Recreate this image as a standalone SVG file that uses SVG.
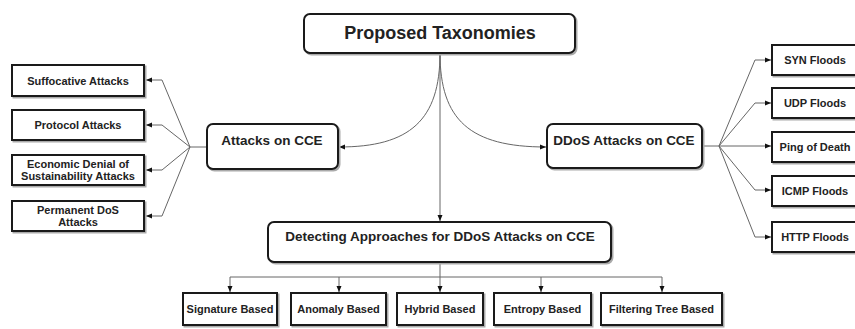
<svg xmlns="http://www.w3.org/2000/svg" width="855" height="329" viewBox="0 0 855 329">
<style>
text{font-family:"Liberation Sans",Arial,sans-serif;font-weight:bold;fill:#222;text-anchor:middle;dominant-baseline:central}
.box{fill:#fff;stroke:#1a1a1a;stroke-width:2}
.sh{fill:none;stroke:#aaa;stroke-width:2}
.c{fill:none;stroke:#666;stroke-width:1}
.s11{font-size:11px}
.s13{font-size:13.5px}
.s18{font-size:18px}
</style>
<defs>
<marker id="ah" markerUnits="userSpaceOnUse" markerWidth="7" markerHeight="6" refX="6" refY="3" orient="auto">
<path d="M0,0.5 L6,3 L0,5.5 Z" fill="#111"/>
</marker>
</defs>
<rect width="855" height="329" fill="#fff"/>
<g id="connectors">
<path class="c" d="M440,53 C440,120 410,147 339,147" marker-end="url(#ah)"/>
<path class="c" d="M440,53 C440,120 470,147 546,147" marker-end="url(#ah)"/>
<path class="c" d="M440,53 L440,221" marker-end="url(#ah)"/>
<path class="c" d="M207,147 L190,147"/>
<path class="c" d="M190,147 L162,80 L146,80" marker-end="url(#ah)"/>
<path class="c" d="M190,147 L162,125 L146,125" marker-end="url(#ah)"/>
<path class="c" d="M190,147 L162,170 L146,170" marker-end="url(#ah)"/>
<path class="c" d="M190,147 L162,216 L146,216" marker-end="url(#ah)"/>
<path class="c" d="M702,146 L719,146"/>
<path class="c" d="M719,146 L755,60 L771,60" marker-end="url(#ah)"/>
<path class="c" d="M719,146 L755,103 L771,103" marker-end="url(#ah)"/>
<path class="c" d="M719,146 L771,146" marker-end="url(#ah)"/>
<path class="c" d="M719,146 L755,190 L771,190" marker-end="url(#ah)"/>
<path class="c" d="M719,146 L755,237 L771,237" marker-end="url(#ah)"/>
<path class="c" d="M440,262 L440,277 M230,277 L662,277"/>
<path class="c" d="M230,277 L230,292" marker-end="url(#ah)"/>
<path class="c" d="M339,277 L339,292" marker-end="url(#ah)"/>
<path class="c" d="M440,277 L440,292" marker-end="url(#ah)"/>
<path class="c" d="M541,277 L541,292" marker-end="url(#ah)"/>
<path class="c" d="M662,277 L662,292" marker-end="url(#ah)"/>
</g>
<g id="proposed">
<rect class="sh" x="305.5" y="15.5" width="271" height="39" rx="6"/>
<rect class="box" x="304" y="14" width="271" height="39" rx="6"/>
<text class="s18" x="440" y="33">Proposed Taxonomies</text>
</g>
<g id="attacks-cce">
<rect class="sh" x="208.5" y="125.5" width="131" height="45" rx="6"/>
<rect class="box" x="207" y="124" width="131" height="45" rx="6"/>
<text class="s13" x="272" y="140">Attacks on CCE</text>
</g>
<g id="ddos-cce">
<rect class="sh" x="548.5" y="125.5" width="155" height="44" rx="6"/>
<rect class="box" x="547" y="124" width="155" height="44" rx="6"/>
<text class="s13" x="624" y="140">DDoS Attacks on CCE</text>
</g>
<g id="detecting">
<rect class="sh" x="269.5" y="223.5" width="343" height="40" rx="6"/>
<rect class="box" x="268" y="222" width="343" height="40" rx="6"/>
<text class="s13" x="440" y="236">Detecting Approaches for DDoS Attacks on CCE</text>
</g>
<g id="suffocative">
<rect class="sh" x="13.5" y="66.5" width="132" height="31"/>
<rect class="box" x="12" y="65" width="132" height="31"/>
<text class="s11" x="78" y="80.5">Suffocative Attacks</text>
</g>
<g id="protocol">
<rect class="sh" x="13.5" y="111.5" width="132" height="30"/>
<rect class="box" x="12" y="110" width="132" height="30"/>
<text class="s11" x="78" y="125">Protocol Attacks</text>
</g>
<g id="economic">
<rect class="sh" x="13.5" y="156.5" width="132" height="30"/>
<rect class="box" x="12" y="155" width="132" height="30"/>
<text class="s11" x="78" y="164">Economic Denial of</text>
<text class="s11" x="78" y="176">Sustainability Attacks</text>
</g>
<g id="permanent">
<rect class="sh" x="13.5" y="202.5" width="132" height="30"/>
<rect class="box" x="12" y="201" width="132" height="30"/>
<text class="s11" x="78" y="210">Permanent DoS</text>
<text class="s11" x="78" y="222">Attacks</text>
</g>
<g id="syn">
<rect class="sh" x="773.5" y="46.5" width="90" height="30"/>
<rect class="box" x="772" y="45" width="90" height="30"/>
<text class="s11" x="815" y="60">SYN Floods</text>
</g>
<g id="udp">
<rect class="sh" x="773.5" y="89.5" width="90" height="30"/>
<rect class="box" x="772" y="88" width="90" height="30"/>
<text class="s11" x="815" y="103">UDP Floods</text>
</g>
<g id="ping">
<rect class="sh" x="773.5" y="133.5" width="90" height="30"/>
<rect class="box" x="772" y="132" width="90" height="30"/>
<text class="s11" x="815" y="147">Ping of Death</text>
</g>
<g id="icmp">
<rect class="sh" x="773.5" y="177.5" width="90" height="30"/>
<rect class="box" x="772" y="176" width="90" height="30"/>
<text class="s11" x="815" y="191">ICMP Floods</text>
</g>
<g id="http">
<rect class="sh" x="773.5" y="223.5" width="90" height="30"/>
<rect class="box" x="772" y="222" width="90" height="30"/>
<text class="s11" x="815" y="237">HTTP Floods</text>
</g>
<g id="signature">
<rect class="sh" x="184.5" y="294.5" width="94" height="32"/>
<rect class="box" x="183" y="293" width="94" height="32"/>
<text class="s11" x="230" y="309">Signature Based</text>
</g>
<g id="anomaly">
<rect class="sh" x="292.5" y="294.5" width="95" height="32"/>
<rect class="box" x="291" y="293" width="95" height="32"/>
<text class="s11" x="338.5" y="309">Anomaly Based</text>
</g>
<g id="hybrid">
<rect class="sh" x="398.5" y="294.5" width="86" height="32"/>
<rect class="box" x="397" y="293" width="86" height="32"/>
<text class="s11" x="440" y="309">Hybrid Based</text>
</g>
<g id="entropy">
<rect class="sh" x="495.5" y="294.5" width="97" height="32"/>
<rect class="box" x="494" y="293" width="97" height="32"/>
<text class="s11" x="542.5" y="309">Entropy Based</text>
</g>
<g id="filtering">
<rect class="sh" x="602.5" y="294.5" width="121" height="32"/>
<rect class="box" x="601" y="293" width="121" height="32"/>
<text class="s11" x="661.5" y="309">Filtering Tree Based</text>
</g>
</svg>
